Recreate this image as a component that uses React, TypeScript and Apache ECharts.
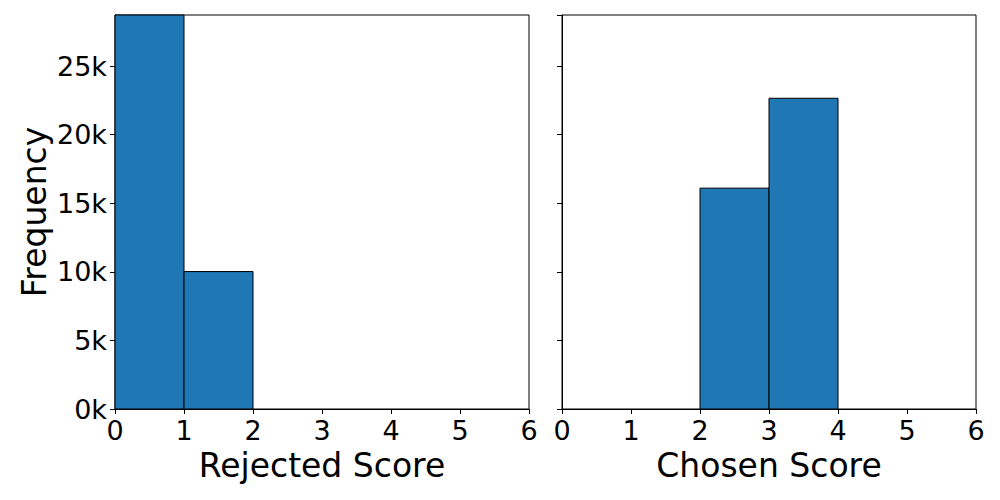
import React, { useEffect, useRef } from "react";
import * as echarts from "echarts";

// Histogram bins (left edge, right edge) and counts
const rejectedBinStart = [0, 1];
const rejectedBinEnd = [1, 2];
const rejectedCounts = [28720, 10020];

const chosenBinStart = [2, 3];
const chosenBinEnd = [3, 4];
const chosenCounts = [16100, 22650];

const xTicks = [0, 1, 2, 3, 4, 5, 6];
const yTickStep = 5000;

const FONT = "DejaVu Sans";
const BAR_COLOR = "#1f77b4";

export default function App() {
  const ref = useRef<HTMLDivElement>(null);

  useEffect(() => {
    if (!ref.current) return;
    const chart = echarts.init(ref.current, null, { renderer: "svg" });

    const yMax = Math.max(...rejectedCounts, ...chosenCounts);

    const rejectedData = rejectedCounts.map((c, i) => [rejectedBinStart[i], rejectedBinEnd[i], c]);
    const chosenData = chosenCounts.map((c, i) => [chosenBinStart[i], chosenBinEnd[i], c]);

    const renderItem = (params: any, api: any) => {
      const x0 = api.value(0);
      const x1 = api.value(1);
      const y = api.value(2);
      const p0 = api.coord([x0, y]);
      const p1 = api.coord([x1, 0]);
      return {
        type: "rect",
        shape: { x: p0[0], y: p0[1], width: p1[0] - p0[0], height: p1[1] - p0[1] },
        style: { fill: BAR_COLOR, stroke: "#000", lineWidth: 1 },
      };
    };

    const xAxisCommon = (name: string, gridIndex: number) => ({
      type: "value",
      gridIndex,
      min: xTicks[0],
      max: xTicks[xTicks.length - 1],
      interval: 1,
      name,
      nameLocation: "middle",
      nameGap: 36,
      nameTextStyle: { fontFamily: FONT, fontSize: 33, color: "#000" },
      axisLine: { show: true, lineStyle: { color: "#000", width: 1 } },
      axisTick: { show: true, inside: false, length: 5, lineStyle: { color: "#000", width: 1 } },
      axisLabel: { show: true, margin: 8, fontFamily: FONT, fontSize: 27, color: "#000", showMinLabel: true, showMaxLabel: true },
      splitLine: { show: false },
    });

    const yAxisCommon = (gridIndex: number, showLabels: boolean) => ({
      type: "value",
      gridIndex,
      min: 0,
      max: yMax,
      interval: yTickStep,
      name: showLabels ? "Frequency" : "",
      nameLocation: "middle",
      nameGap: 64,
      nameTextStyle: { fontFamily: FONT, fontSize: 33, color: "#000" },
      axisLine: { show: true, lineStyle: { color: "#000", width: 1 } },
      axisTick: { show: true, inside: false, length: 5, lineStyle: { color: "#000", width: 1 } },
      axisLabel: {
        show: showLabels,
        margin: 8,
        fontFamily: FONT,
        fontSize: 27,
        color: "#000",
        showMaxLabel: false,
        formatter: (v: number) => (v % yTickStep === 0 ? `${v / 1000}k` : ""),
      },
      splitLine: { show: false },
    });

    chart.setOption({
      animation: false,
      backgroundColor: "#fff",
      grid: [
        { left: 115, right: 471, top: 15, bottom: 91, show: true, borderColor: "#000", borderWidth: 1, backgroundColor: "transparent" },
        { left: 562, right: 24, top: 15, bottom: 91, show: true, borderColor: "#000", borderWidth: 1, backgroundColor: "transparent" },
      ],
      xAxis: [xAxisCommon("Rejected Score", 0), xAxisCommon("Chosen Score", 1)],
      yAxis: [yAxisCommon(0, true), yAxisCommon(1, false)],
      series: [
        {
          type: "custom",
          xAxisIndex: 0,
          yAxisIndex: 0,
          renderItem,
          encode: { x: [0, 1], y: 2 },
          data: rejectedData,
        },
        {
          type: "custom",
          xAxisIndex: 1,
          yAxisIndex: 1,
          renderItem,
          encode: { x: [0, 1], y: 2 },
          data: chosenData,
        },
      ],
    });

    return () => chart.dispose();
  }, []);

  return (
    <div
      ref={ref}
      style={{ position: "fixed", left: 0, top: 0, width: 1000, height: 500, background: "#fff" }}
    />
  );
}
